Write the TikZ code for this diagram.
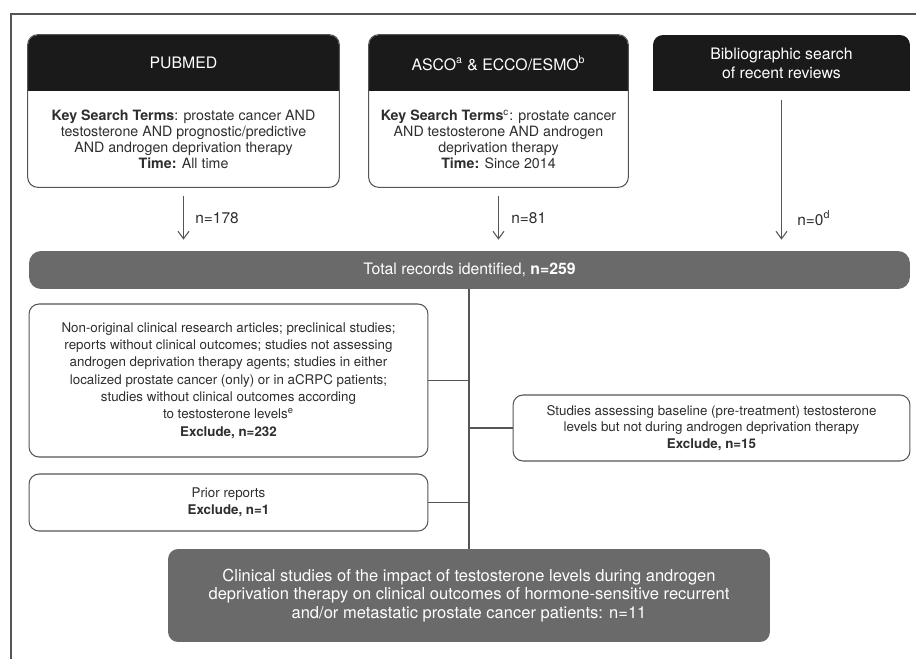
\documentclass[tikz,border=0pt]{standalone}
\usepackage{fontspec}
\setmainfont{TeX Gyre Heros}
\usetikzlibrary{arrows.meta}
\definecolor{hdrblack}{HTML}{1A1A1A}
\definecolor{bargray}{HTML}{6A6A6A}
\definecolor{linegray}{HTML}{555555}
\definecolor{txtgray}{HTML}{2E2E2E}
\tikzset{
    hdr/.style={fill=hdrblack, text=white, rounded corners=2mm, inner sep=0pt, align=center,
        minimum height=1.12cm, font=\fontsize{9}{10.8}\selectfont},
    srcbody/.style={inner sep=0pt, align=center, text=txtgray, minimum height=1.92cm,
        font=\fontsize{8.1}{9.1}\selectfont},
    exclbox/.style={draw=linegray, line width=0.6pt, rounded corners=2mm, fill=white, inner sep=0pt,
        align=center, text=txtgray},
    graybar/.style={fill=bargray, text=white, inner sep=0pt, align=center},
    link/.style={draw=linegray, line width=0.6pt},
    arr/.style={link, -{Straight Barb[length=1.5mm, width=2.2mm]}, shorten <=1.8mm, shorten >=2.2mm},
    cnt/.style={anchor=west, text=txtgray, inner sep=0pt, font=\fontsize{8.8}{10}\selectfont}
}
\begin{document}
\begin{tikzpicture}[x=0.02cm, y=-0.02cm]
    \useasboundingbox (0,0) rectangle (916,659);
    \draw[linegray, line width=0.7pt] (11,659) -- (11,14) -- (916,14);

    % search sources
    \node[hdr, minimum width=6.22cm] (pubmedH) at (183.5,63) {PUBMED};
    \fill[hdrblack] ([yshift=2mm]pubmedH.south west) rectangle (pubmedH.south east);
    \node[srcbody, minimum width=6.22cm] (pubmedB) at (183.5,139)
        {\textbf{Key Search Terms}: prostate cancer AND\\
         testosterone AND prognostic/predictive\\
         AND androgen deprivation therapy\\
         \textbf{Time:} All time};
    \draw[link, rounded corners=2mm] (pubmedH.north west) rectangle (pubmedB.south east);

    \node[hdr, minimum width=5.18cm] (ascoH) at (498.5,63)
        {ASCO\textsuperscript{a} \& ECCO/ESMO\textsuperscript{b}};
    \fill[hdrblack] ([yshift=2mm]ascoH.south west) rectangle (ascoH.south east);
    \node[srcbody, minimum width=5.18cm] (ascoB) at (498.5,139)
        {\textbf{Key Search Terms}\textsuperscript{c}: prostate cancer\\
         AND testosterone AND androgen\\
         deprivation therapy\\
         \textbf{Time:} Since 2014};
    \draw[link, rounded corners=2mm] (ascoH.north west) rectangle (ascoB.south east);

    \node[hdr, minimum width=5.14cm] (biblio) at (781.5,63) {Bibliographic search\\of recent reviews};
    \fill[hdrblack] ([yshift=2mm]biblio.south west) rectangle (biblio.south east);

    % totals
    \node[graybar, rounded corners=2.4mm, minimum width=17.62cm, minimum height=0.76cm,
        font=\fontsize{9}{10.8}\selectfont] (total) at (469.5,270)
        {Total records identified, \textbf{n=259}};

    \draw[arr] (pubmedB.south) -- (pubmedB.south |- total.north);
    \draw[arr] (ascoB.south) -- (ascoB.south |- total.north);
    \draw[arr] (biblio.south) -- (biblio.south |- total.north);
    \node[cnt] (nPubmed) at (195,218) {n=178};
    \node[cnt] (nAsco) at (511,218) {n=81};
    \node[cnt] (nBiblio) at (797,218) {n=0\textsuperscript{d}};

    % exclusions
    \node[exclbox, minimum width=7.98cm, minimum height=3.06cm,
        font=\fontsize{7.6}{9.85}\selectfont] (exclNonorig) at (228.5,380.5)
        {Non-original clinical research articles; preclinical studies;\\
         reports without clinical outcomes; studies not assessing\\
         androgen deprivation therapy agents; studies in either\\
         localized prostate cancer (only) or in aCRPC patients;\\
         studies without clinical outcomes according\\
         to testosterone levels\textsuperscript{e}\\
         \textbf{Exclude, n=232}};
    \node[exclbox, minimum width=7.94cm, minimum height=1.32cm,
        font=\fontsize{7.6}{9.4}\selectfont] (exclBaseline) at (711.5,428)
        {Studies assessing baseline (pre-treatment) testosterone\\
         levels but not during androgen deprivation therapy\\
         \textbf{Exclude, n=15}};
    \node[exclbox, minimum width=7.98cm, minimum height=1.14cm,
        font=\fontsize{7.6}{9.7}\selectfont] (exclPrior) at (228.5,502.5)
        {Prior reports\\ \textbf{Exclude, n=1}};

    \node[graybar, rounded corners=2mm, minimum width=12.04cm, minimum height=1.86cm,
        font=\fontsize{9.4}{10.6}\selectfont] (final) at (469,595.5)
        {Clinical studies of the impact of testosterone levels during androgen\\
         deprivation therapy on clinical outcomes of hormone-sensitive recurrent\\
         and/or metastatic prostate cancer patients: n=11};

    \draw[link] (total.south -| final.north) -- (final.north);
    \draw[link] (exclNonorig.east) -- (exclNonorig.east -| final.north);
    \draw[link] (exclBaseline.west) -- (exclBaseline.west -| final.north);
    \draw[link] (exclPrior.east) -- (exclPrior.east -| final.north);
\end{tikzpicture}
\end{document}
